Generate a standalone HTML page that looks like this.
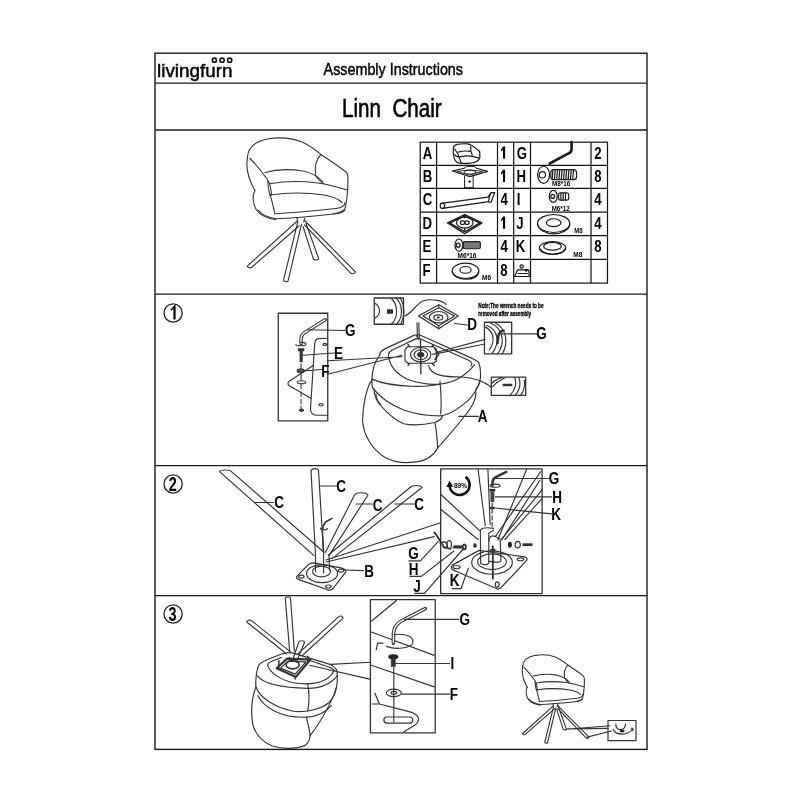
<!DOCTYPE html>
<html><head><meta charset="utf-8"><title>Linn Chair Assembly</title>
<style>
html,body{margin:0;padding:0;background:#fff;width:800px;height:800px;overflow:hidden}
svg{display:block;will-change:transform}
text{font-family:"Liberation Sans",sans-serif;fill:#000}
.ln{fill:none;stroke:#1a1a1a;stroke-linecap:round;stroke-linejoin:round}
.dr{stroke:#333}
</style></head><body>
<svg width="800" height="800" viewBox="0 0 800 800">
<rect width="800" height="800" fill="#fff"/>
<!-- FRAME -->
<g fill="none" stroke="#1a1a1a" stroke-width="1.4">
<rect x="155" y="53.2" width="492" height="696.2"/>
<line x1="155" y1="83.1" x2="647" y2="83.1"/>
<line x1="155" y1="130" x2="647" y2="130"/>
<line x1="155" y1="294.1" x2="647" y2="294.1"/>
<line x1="155" y1="465.6" x2="647" y2="465.6"/>
<line x1="155" y1="595.6" x2="647" y2="595.6"/>
</g>
<!-- HEADER -->
<text x="157" y="77" font-size="17.5" textLength="75.6" lengthAdjust="spacingAndGlyphs" stroke="#000" stroke-width="0.45">livingfurn</text>
<g fill="none" stroke="#111" stroke-width="1.6"><circle cx="214.4" cy="60.2" r="2.1"/><circle cx="222.1" cy="60.2" r="2.1"/><circle cx="229.7" cy="60.2" r="2.1"/></g>
<text x="323.6" y="75" font-size="17" textLength="139.4" lengthAdjust="spacingAndGlyphs" stroke="#000" stroke-width="0.45">Assembly Instructions</text>
<text x="342" y="117.4" font-size="26" textLength="99.7" lengthAdjust="spacingAndGlyphs" xml:space="preserve" stroke="#000" stroke-width="0.6">Linn  Chair</text>
<!-- STEP NUMBERS -->
<g fill="none" stroke="#222" stroke-width="1.3"><circle cx="173.1" cy="313" r="9.1"/><circle cx="173.1" cy="484" r="9.1"/><circle cx="173.1" cy="614" r="9.1"/></g>
<g font-size="19.5" font-weight="bold" text-anchor="middle"><text transform="translate(172.8,491) scale(0.74,1)">2</text><text transform="translate(172.6,621) scale(0.74,1)">3</text></g>
<!-- TABLE -->
<g fill="none" stroke="#111" stroke-width="1.2">
<rect x="420.2" y="142.2" width="187.3" height="140.9"/>
<line x1="436.6" y1="142.2" x2="436.6" y2="283.1"/>
<line x1="497.5" y1="142.2" x2="497.5" y2="283.1"/>
<line x1="513.7" y1="142.2" x2="513.7" y2="283.1"/>
<line x1="530.5" y1="142.2" x2="530.5" y2="283.1"/>
<line x1="591" y1="142.2" x2="591" y2="283.1"/>
<line x1="420.2" y1="165.4" x2="607.5" y2="165.4"/>
<line x1="420.2" y1="188.4" x2="607.5" y2="188.4"/>
<line x1="420.2" y1="212.1" x2="607.5" y2="212.1"/>
<line x1="420.2" y1="235.7" x2="607.5" y2="235.7"/>
<line x1="420.2" y1="259.4" x2="607.5" y2="259.4"/>
</g>
<!--TT--><g font-size="16.5" font-weight="bold">
<text transform="translate(422.65,158.8) scale(0.8,1)">A</text>
<path d="M503.00,146.60 L505.10,146.60 L505.10,158.75 L503.00,158.75 L503.00,149.60 L501.40,151.50 L500.90,149.80 Z" fill="#000"/>
<text transform="translate(516.80,158.8) scale(0.8,1)">G</text>
<text transform="translate(594.20,158.8) scale(0.8,1)">2</text>
<text transform="translate(422.70,182.0) scale(0.8,1)">B</text>
<path d="M503.00,169.80 L505.10,169.80 L505.10,181.95 L503.00,181.95 L503.00,172.80 L501.40,174.70 L500.90,173.00 Z" fill="#000"/>
<text transform="translate(516.60,182.0) scale(0.8,1)">H</text>
<text transform="translate(594.20,182.0) scale(0.8,1)">8</text>
<text transform="translate(422.70,205.0) scale(0.8,1)">C</text>
<text transform="translate(500.50,205.0) scale(0.8,1)">4</text>
<text transform="translate(516.80,205.0) scale(0.8,1)">I</text>
<text transform="translate(594.20,205.0) scale(0.8,1)">4</text>
<text transform="translate(422.40,228.7) scale(0.8,1)">D</text>
<path d="M503.00,216.50 L505.10,216.50 L505.10,228.65 L503.00,228.65 L503.00,219.50 L501.40,221.40 L500.90,219.70 Z" fill="#000"/>
<text transform="translate(516.25,228.7) scale(0.8,1)">J</text>
<text transform="translate(594.20,228.7) scale(0.8,1)">4</text>
<text transform="translate(422.40,252.3) scale(0.8,1)">E</text>
<text transform="translate(500.50,252.3) scale(0.8,1)">4</text>
<text transform="translate(515.75,252.3) scale(0.8,1)">K</text>
<text transform="translate(594.20,252.3) scale(0.8,1)">8</text>
<text transform="translate(422.40,276.0) scale(0.8,1)">F</text>
<text transform="translate(500.30,276.0) scale(0.8,1)">8</text>
</g><path d="M170.6,309.6 L174.2,305.6 L175.6,304.6 L175.6,319.6 L173.4,319.6 L173.4,308.6 L171.4,311 Z" fill="#000"/>
<!--TABLETEXT-->
<g class="ln" stroke-width="1.2">
<!-- A chair + B plate -->
<g transform="translate(437,142) scale(0.075)">
<path vector-effect="non-scaling-stroke" d="M218,80 C215,30 300,18 410,25 C470,35 520,85 570,130 L572,205 C565,250 520,278 420,285 L330,285 C280,285 245,262 232,225 C218,180 212,120 218,80 Z"/>
<path vector-effect="non-scaling-stroke" d="M235,95 C265,130 290,175 300,215 C310,250 318,275 325,285"/>
<path vector-effect="non-scaling-stroke" d="M285,135 C330,120 400,118 445,125"/>
<path vector-effect="non-scaling-stroke" d="M298,198 C360,185 430,182 470,192 C510,200 545,210 568,215"/>
<path vector-effect="non-scaling-stroke" d="M450,60 C445,100 450,140 470,175"/>
<path vector-effect="non-scaling-stroke" d="M235,170 C260,195 280,200 298,198"/>
<!-- B -->
<path vector-effect="non-scaling-stroke" d="M205,388 L360,350 M525,350 L675,392 L440,462 L205,388" stroke-width="1.1"/>
<path vector-effect="non-scaling-stroke" d="M270,392 L440,372 L610,392 L440,440 Z" stroke-width="0.9"/>
<path vector-effect="non-scaling-stroke" d="M360,352 L392,325 L498,325 L525,352" stroke-width="1"/>
<ellipse vector-effect="non-scaling-stroke" cx="440" cy="402" rx="80" ry="26" stroke-width="0.9"/>
<path vector-effect="non-scaling-stroke" d="M368,455 L368,610 M482,455 L482,610 M368,610 L482,610" stroke-width="1"/>
<circle cx="435" cy="528" r="16" fill="#111" stroke="none"/>
</g>
<!-- C leg + D plate -->
<g transform="translate(437,188) scale(0.075)">
<path vector-effect="non-scaling-stroke" d="M55,205 L680,122 L722,62 L770,60 L742,130 L722,190 L700,190 L688,182 L75,272"/>
<ellipse vector-effect="non-scaling-stroke" cx="72" cy="238" rx="30" ry="36"/>
<path vector-effect="non-scaling-stroke" d="M688,182 L695,130 L722,62"/>
<path vector-effect="non-scaling-stroke" d="M140,465 L370,355 L600,465 L370,610 Z" stroke-width="1.3"/>
<path vector-effect="non-scaling-stroke" d="M170,465 L370,375 L570,465 L370,585 Z"/>
<ellipse vector-effect="non-scaling-stroke" cx="370" cy="462" rx="110" ry="72"/>
<ellipse vector-effect="non-scaling-stroke" cx="340" cy="462" rx="28" ry="24"/>
<ellipse vector-effect="non-scaling-stroke" cx="400" cy="462" rx="28" ry="24"/>
<path vector-effect="non-scaling-stroke" d="M370,355 L370,395 M370,530 L370,580"/>
</g>
<!-- E bolt + F washer -->
<g transform="translate(437,235) scale(0.075)">
<ellipse vector-effect="non-scaling-stroke" cx="292" cy="135" rx="52" ry="82"/>
<circle vector-effect="non-scaling-stroke" cx="282" cy="135" r="26"/>
<rect x="350" y="88" width="228" height="95" rx="20" fill="#777" stroke="#222" vector-effect="non-scaling-stroke"/>
<ellipse vector-effect="non-scaling-stroke" cx="380" cy="478" rx="178" ry="102"/>
<path vector-effect="non-scaling-stroke" d="M205,490 C215,555 300,590 380,590 C470,590 545,560 556,495"/>
<ellipse vector-effect="non-scaling-stroke" cx="380" cy="465" rx="75" ry="45"/>
</g>
<!-- G key + H bolt -->
<g transform="translate(530,142) scale(0.0763)">
<path vector-effect="non-scaling-stroke" d="M545,0 L545,95 C545,120 530,140 505,150 L258,282" stroke-width="2.6"/>
<ellipse vector-effect="non-scaling-stroke" cx="178" cy="430" rx="78" ry="112"/>
<circle vector-effect="non-scaling-stroke" cx="162" cy="430" r="42"/>
<rect x="272" y="362" width="338" height="132" rx="40" fill="#fff" stroke="#222" vector-effect="non-scaling-stroke"/>
<path vector-effect="non-scaling-stroke" d="M300,365 L290,490 M330,365 L320,490 M360,365 L350,490 M390,365 L380,490 M420,365 L410,490 M450,365 L440,490 M480,365 L470,490 M510,365 L500,490 M540,365 L530,490 M570,365 L560,490"/>
</g>
<!-- I bolt + J washer -->
<g transform="translate(530,188) scale(0.0763)">
<ellipse vector-effect="non-scaling-stroke" cx="305" cy="110" rx="52" ry="78"/>
<circle vector-effect="non-scaling-stroke" cx="298" cy="110" r="26"/>
<rect x="375" y="65" width="132" height="95" rx="25" fill="#fff" stroke="#222" vector-effect="non-scaling-stroke"/>
<path vector-effect="non-scaling-stroke" d="M405,68 L405,158 M435,68 L435,158 M465,68 L465,158"/>
<ellipse vector-effect="non-scaling-stroke" cx="310" cy="465" rx="212" ry="118"/>
<path vector-effect="non-scaling-stroke" d="M100,475 C110,545 200,600 310,600 C420,600 510,550 520,480"/>
<ellipse vector-effect="non-scaling-stroke" cx="310" cy="455" rx="95" ry="52"/>
</g>
<!-- K washer + icon -->
<g transform="translate(510,235) scale(0.10125)">
<ellipse vector-effect="non-scaling-stroke" cx="420" cy="128" rx="130" ry="62"/>
<ellipse vector-effect="non-scaling-stroke" cx="420" cy="112" rx="88" ry="38"/>
<path vector-effect="non-scaling-stroke" d="M300,140 C320,175 380,190 420,190 C480,190 530,170 545,135"/>
<circle vector-effect="non-scaling-stroke" cx="115" cy="312" r="16"/>
<path vector-effect="non-scaling-stroke" d="M45,410 L75,345 L185,345 L190,410 Z"/>
<circle cx="160" cy="348" r="14" fill="#111" stroke="none"/>
<path vector-effect="non-scaling-stroke" d="M80,380 L170,380"/>
</g>
</g>
<g font-weight="bold" font-size="6.6">
<text x="552" y="186" textLength="18.4" lengthAdjust="spacingAndGlyphs">M8*16</text>
<text x="551.7" y="210.5" textLength="18" lengthAdjust="spacingAndGlyphs">M6*12</text>
<text x="457.6" y="257.5" textLength="18.8" lengthAdjust="spacingAndGlyphs">M6*16</text>
<text x="574.2" y="233" textLength="8.4" lengthAdjust="spacingAndGlyphs">M8</text>
<text x="573.3" y="256.8" textLength="9" lengthAdjust="spacingAndGlyphs">M8</text>
<text x="482" y="280" textLength="9" lengthAdjust="spacingAndGlyphs">M6</text>
</g>

<!--TABLEICONS-->
<g id="chair" class="ln dr" stroke-width="1.1">
<g transform="translate(240,132) scale(0.15)">
<path vector-effect="non-scaling-stroke" d="M50,165 C55,100 110,60 190,45 C260,35 340,38 410,65 C470,90 510,125 540,150 C600,190 660,230 705,265 C718,275 720,290 720,310 L718,380"/>
<path vector-effect="non-scaling-stroke" d="M50,165 C42,210 48,280 75,340 C85,365 95,380 100,390"/>
<path vector-effect="non-scaling-stroke" d="M65,175 C100,210 150,270 185,320 C200,345 208,380 210,420"/>
<path vector-effect="non-scaling-stroke" d="M540,150 C510,180 495,230 505,290 C515,310 535,330 560,345"/>
<path vector-effect="non-scaling-stroke" d="M165,270 C230,252 330,245 420,260 C480,272 520,295 550,330"/>
<path vector-effect="non-scaling-stroke" d="M200,345 C280,330 400,325 520,340 C600,352 660,370 710,385"/>
<path vector-effect="non-scaling-stroke" d="M200,420 C300,405 430,400 560,420 C620,430 660,450 680,470"/>
<path vector-effect="non-scaling-stroke" d="M232,545 C350,540 500,525 640,510 C680,505 700,490 700,470"/>
<path vector-effect="non-scaling-stroke" d="M100,390 C80,420 85,480 110,520 C140,560 190,578 240,585"/>
<path vector-effect="non-scaling-stroke" d="M718,380 C715,420 712,470 700,510 C690,530 660,540 620,545"/>
<path vector-effect="non-scaling-stroke" d="M200,420 C215,460 225,510 232,545"/>
<path vector-effect="non-scaling-stroke" d="M185,330 C190,380 195,410 200,420"/>
</g>
<g transform="translate(240,210) scale(0.15)">
<path vector-effect="non-scaling-stroke" d="M120,0 C140,25 180,50 240,58 C330,55 500,40 640,25 C670,20 690,10 700,0"/>
<path vector-effect="non-scaling-stroke" d="M380,55 L385,75 M430,55 L425,80"/>
<path vector-effect="non-scaling-stroke" d="M380,75 L50,372 C48,380 60,388 75,385 L395,105"/>
<path vector-effect="non-scaling-stroke" d="M385,80 L290,468 C292,478 315,480 320,474 L410,95"/>
<path vector-effect="non-scaling-stroke" d="M420,110 L490,328 C500,335 520,335 525,325 L440,90"/>
<path vector-effect="non-scaling-stroke" d="M430,70 L770,412 C768,424 748,428 740,422 L430,100"/>
</g>
</g>
<use href="#chair" transform="translate(370.4,570) scale(0.615)"/>

<!--CHAIR-->
<g class="ln dr" stroke-width="1.15">
<!-- chair body (upside down) -->
<g transform="translate(350,330) scale(0.1875)">
<path vector-effect="non-scaling-stroke" d="M158,135 C158,112 178,102 200,94 L338,30 C352,24 372,25 388,33 L648,150 C665,158 680,165 686,173 C698,200 698,250 693,273 C690,290 685,300 670,320"/>
<path vector-effect="non-scaling-stroke" d="M205,128 C210,112 225,108 240,100 L345,50 C358,44 372,45 385,52 L630,160 C650,170 655,180 645,192"/>
<path vector-effect="non-scaling-stroke" d="M205,128 C205,185 245,240 320,268 C390,290 450,292 485,288 C560,280 620,240 665,185"/>
<path vector-effect="non-scaling-stroke" d="M158,135 C130,170 118,215 117,267 C117,285 118,300 120,307"/>
<path vector-effect="non-scaling-stroke" d="M117,267 C90,300 68,400 67,480 C70,560 120,640 187,680 C240,708 300,710 340,705 C400,700 440,680 467,630 C520,570 600,480 640,420 C665,385 675,350 670,320"/>
<path vector-effect="non-scaling-stroke" d="M120,307 C160,360 220,400 287,427 C350,450 420,458 480,458 C530,455 580,420 633,373 C665,340 685,300 693,273"/>
<path vector-effect="non-scaling-stroke" d="M127,313 C130,360 150,390 170,410 C210,455 250,485 287,500 C340,512 400,505 453,493 C475,485 490,472 493,460"/>
<path vector-effect="non-scaling-stroke" d="M138,340 C140,370 150,385 165,400"/>
<path vector-effect="non-scaling-stroke" d="M480,273 C485,330 490,400 483,447"/>
<path vector-effect="non-scaling-stroke" d="M453,497 C462,540 466,590 467,630"/>
<path vector-effect="non-scaling-stroke" d="M117,262 C170,285 260,298 330,300 C400,302 450,296 480,288"/>
</g>
<!-- center plate on seat -->
<g transform="translate(360,295) scale(0.15)">
<path vector-effect="non-scaling-stroke" d="M318,345 L490,345 L510,365 L510,440 L490,455 L318,455 L300,440 L300,365 Z"/>
<ellipse vector-effect="non-scaling-stroke" cx="405" cy="398" rx="68" ry="48"/>
<ellipse vector-effect="non-scaling-stroke" cx="405" cy="398" rx="45" ry="32"/>
<ellipse vector-effect="non-scaling-stroke" cx="405" cy="398" rx="20" ry="14" fill="#333"/>
<path vector-effect="non-scaling-stroke" d="M403,300 L406,525 M330,345 L320,330 M480,345 L490,330 M330,455 L320,470 M480,455 L495,470" stroke-width="1.4"/>
<path vector-effect="non-scaling-stroke" d="M500,360 L525,395 L500,430" stroke-width="1.6"/>
<!-- arrow down -->
<path vector-effect="non-scaling-stroke" d="M380,185 L383,285 M392,185 L395,285 M376,270 L389,295 L400,270"/>
<!-- D diamond -->
<path vector-effect="non-scaling-stroke" d="M390,140 L525,65 L655,140 L525,225 Z" stroke-width="1.3"/>
<path vector-effect="non-scaling-stroke" d="M420,140 L525,85 L630,140 L525,205 Z"/>
<ellipse vector-effect="non-scaling-stroke" cx="525" cy="148" rx="62" ry="38"/>
<ellipse vector-effect="non-scaling-stroke" cx="522" cy="150" rx="30" ry="18"/>
<ellipse cx="522" cy="150" rx="9" ry="6" fill="#222"/>
<path vector-effect="non-scaling-stroke" d="M525,65 L525,85 M525,205 L525,225"/>
<path vector-effect="non-scaling-stroke" d="M630,190 L715,200"/>
<!-- small detail box -->
<rect vector-effect="non-scaling-stroke" x="95" y="20" width="195" height="175" stroke-width="1.3"/>
<path vector-effect="non-scaling-stroke" d="M210,25 C250,60 260,150 210,192 M240,22 C285,60 290,150 245,192 M268,22 C300,70 300,140 272,192 M100,55 C140,80 140,130 100,155"/>
<rect x="180" y="95" width="40" height="30" fill="#333" stroke="none"/>
<path vector-effect="non-scaling-stroke" d="M290,140 C335,140 370,60 420,40 C480,20 560,40 575,65"/>
</g>
<!-- left detail box -->
<g transform="translate(270,305) scale(0.15)">
<rect vector-effect="non-scaling-stroke" x="55" y="55" width="330" height="717" stroke-width="1.3"/>
<path vector-effect="non-scaling-stroke" d="M368,98 L228,186 C212,197 207,210 207,228 L207,258" stroke-width="3.4"/>
<path vector-effect="non-scaling-stroke" d="M366,99.5 L228,186 C212,197 207,210 207,228 L207,256" stroke-width="1.3" stroke="#fff"/>
<path vector-effect="non-scaling-stroke" d="M172,262 C172,275 240,275 240,262 C240,250 215,248 200,250"/>
<path vector-effect="non-scaling-stroke" d="M190,292 L225,292 L225,305 L190,305 Z" fill="#333"/>
<rect x="198" y="305" width="20" height="75" fill="#333"/>
<ellipse vector-effect="non-scaling-stroke" cx="205" cy="438" rx="24" ry="13" fill="#555"/>
<path vector-effect="non-scaling-stroke" d="M207,390 L207,420 M207,455 L207,500 M207,530 L207,560 M207,580 L207,610 M207,630 L207,660 M207,675 L207,690" stroke-width="1"/>
<ellipse vector-effect="non-scaling-stroke" cx="210" cy="515" rx="28" ry="10"/>
<ellipse vector-effect="non-scaling-stroke" cx="210" cy="702" rx="13" ry="8" fill="#555"/>
<path vector-effect="non-scaling-stroke" d="M385,222 L322,224 C306,226 300,240 298,260 L270,690 C268,715 285,735 310,735 L385,735"/>
<path vector-effect="non-scaling-stroke" d="M290,402 L128,508 C114,520 118,535 135,542 L272,622"/>
<ellipse vector-effect="non-scaling-stroke" cx="365" cy="263" rx="12" ry="7"/>
<ellipse vector-effect="non-scaling-stroke" cx="340" cy="665" rx="15" ry="8"/>
<path vector-effect="non-scaling-stroke" d="M250,165 L500,170 M218,335 L430,320 M218,440 L345,430"/>
<path vector-effect="non-scaling-stroke" d="M385,372 L880,345 M385,462 L880,335"/>
</g>
<!-- leaders to G box and arrow box -->
<path d="M432.5,354.4 L485,344 M436,352.5 L485,339.4"/>
<path d="M428.7,365.6 C430.5,375 443,377 462,377 C477,378 486,383 491.5,387"/>
<!-- G detail box -->
<g transform="translate(470,295) scale(0.1375)">
<rect vector-effect="non-scaling-stroke" x="105" y="198" width="198" height="230" stroke-width="1.3"/>
<path vector-effect="non-scaling-stroke" d="M105,230 C170,260 190,330 140,400 M120,220 C200,250 225,340 160,425 M150,205 C240,240 260,350 200,428 M180,200 C270,250 280,350 235,428"/>
<path vector-effect="non-scaling-stroke" d="M245,258 C220,262 208,285 205,300 L200,350" stroke-width="2.6"/>
<path vector-effect="non-scaling-stroke" d="M225,283 L485,283"/>
<rect vector-effect="non-scaling-stroke" x="155" y="598" width="250" height="132" stroke-width="1.3"/>
<path vector-effect="non-scaling-stroke" d="M160,640 C185,615 215,605 235,600 M160,670 C195,630 230,615 250,605 M295,725 C330,690 340,640 325,600 M330,728 C360,690 370,640 355,600 M370,728 C390,700 400,660 395,620"/>
<path vector-effect="non-scaling-stroke" d="M245,655 L300,655" stroke-width="2.5"/>
</g>
<path d="M458.8,416.3 L478.4,416.3"/>
</g>
<g font-weight="bold" font-size="6.4" stroke="#000" stroke-width="0.3">
<text x="478.3" y="308" textLength="65.3" lengthAdjust="spacingAndGlyphs">Note:The wrench needs to be</text>
<text x="478.3" y="315.6" textLength="52.9" lengthAdjust="spacingAndGlyphs">removed after assembly</text>
</g>

<!--STEP1-->
<g class="ln dr" stroke-width="1.15">
<!-- main legs -->
<g transform="translate(200,465) scale(0.3)">
<path vector-effect="non-scaling-stroke" d="M65,22 L380,302 M105,22 L412,290 M65,22 C70,15 100,15 105,22"/>
<path vector-effect="non-scaling-stroke" d="M370,18 L385,300 M395,18 L412,296 M370,18 C375,10 392,10 395,18"/>
<path vector-effect="non-scaling-stroke" d="M515,100 L418,292 M560,100 L430,302 M515,100 C522,90 552,90 560,100"/>
<path vector-effect="non-scaling-stroke" d="M700,75 L428,300 M740,75 L440,312 M700,75 C708,66 735,66 740,75"/>
<!-- hex key on vertical leg -->
<path vector-effect="non-scaling-stroke" d="M440,178 L418,190 L410,205 L410,215" stroke-width="1.6"/>
<path vector-effect="non-scaling-stroke" d="M403,210 C395,215 420,220 425,212"/>
<path vector-effect="non-scaling-stroke" d="M408,220 L412,290" stroke-width="1.4"/>
<!-- base plate -->
<path vector-effect="non-scaling-stroke" d="M322,372 L360,333 C365,328 372,326 380,326 L470,343 C480,345 488,350 486,356 L445,410 C440,416 432,418 425,416 L330,382 C322,379 320,376 322,372 Z" stroke-width="1.2"/>
<ellipse vector-effect="non-scaling-stroke" cx="407" cy="362" rx="52" ry="30"/>
<ellipse vector-effect="non-scaling-stroke" cx="405" cy="355" rx="30" ry="18"/>
<ellipse vector-effect="non-scaling-stroke" cx="338" cy="372" rx="9" ry="5"/>
<ellipse vector-effect="non-scaling-stroke" cx="470" cy="352" rx="9" ry="5"/>
<ellipse vector-effect="non-scaling-stroke" cx="428" cy="405" rx="9" ry="5"/>
<path vector-effect="non-scaling-stroke" d="M385,300 L385,355 M412,296 L412,360 M430,302 L432,350"/>
<path vector-effect="non-scaling-stroke" d="M480,350 L545,352"/>
<!-- C leaders -->
<path vector-effect="non-scaling-stroke" d="M185,125 L245,125 M400,70 L455,70 M520,130 L575,130 M650,130 L715,130"/>
<!-- long lines to right labels -->
<path vector-effect="non-scaling-stroke" d="M420,316.7 L802.5,192.5 M420,323.3 L780.8,238.7"/>
</g>
<!-- G H J lines -->
<g transform="translate(340,500) scale(0.1625)">
<path vector-effect="non-scaling-stroke" d="M425,375 L495,375 L605,255 M430,470 L500,470 L700,315 M460,575 L520,575 L760,300 M690,545 L745,545 L790,420"/>
<path vector-effect="non-scaling-stroke" d="M580,200 C600,220 620,260 640,290 L680,300" stroke-width="1.8"/>
<ellipse vector-effect="non-scaling-stroke" cx="672" cy="275" rx="14" ry="25"/>
<path vector-effect="non-scaling-stroke" d="M700,292 L745,292" stroke-width="2.2"/>
<ellipse vector-effect="non-scaling-stroke" cx="765" cy="292" rx="10" ry="14"/>
</g>
<!-- detail box upper -->
<g transform="translate(440,466) scale(0.13125)">
<rect vector-effect="non-scaling-stroke" x="5" y="22" width="773" height="950" stroke-width="1.3"/>
<path vector-effect="non-scaling-stroke" d="M505,45 L425,85 C405,95 400,110 400,125 L400,150" stroke-width="2.4"/>
<ellipse vector-effect="non-scaling-stroke" cx="420" cy="150" rx="38" ry="12"/>
<rect x="378" y="175" width="42" height="18" fill="#222"/>
<rect x="385" y="193" width="28" height="80" fill="#444"/>
<ellipse cx="397" cy="320" rx="22" ry="9" fill="#333"/>
<path vector-effect="non-scaling-stroke" d="M397,280 L397,310 M397,330 L397,360 M397,380 L397,410 M397,430 L397,460"/>
<path vector-effect="non-scaling-stroke" d="M290,25 L345,455 M365,25 L382,445"/>
<path vector-effect="non-scaling-stroke" d="M5,215 L300,490 M5,330 L290,560"/>
<path vector-effect="non-scaling-stroke" d="M660,25 L440,564 M760,110 L470,564 M775,250 L495,560"/>
<path vector-effect="non-scaling-stroke" d="M420,95 L830,95 M420,235 L850,235 M420,320 L850,365"/>
</g>
<!-- detail box lower -->
<g transform="translate(440,465) scale(0.1626)">
<path vector-effect="non-scaling-stroke" d="M70,625 C75,615 85,610 95,605 L240,525 L520,565 C535,568 540,580 530,590 L380,750 C370,762 355,765 345,758 L90,650 C75,645 68,635 70,625 Z" stroke-width="1.2"/>
<ellipse vector-effect="non-scaling-stroke" cx="320" cy="600" rx="125" ry="72"/>
<ellipse vector-effect="non-scaling-stroke" cx="320" cy="595" rx="88" ry="48"/>
<ellipse vector-effect="non-scaling-stroke" cx="102" cy="628" rx="22" ry="10"/>
<ellipse vector-effect="non-scaling-stroke" cx="495" cy="580" rx="20" ry="9"/>
<ellipse vector-effect="non-scaling-stroke" cx="352" cy="735" rx="12" ry="16"/>
<path vector-effect="non-scaling-stroke" d="M248,400 L250,605 C260,615 290,615 300,605 L300,420 M248,400 C260,385 300,385 330,390 M300,420 L330,400"/>
<path vector-effect="non-scaling-stroke" d="M300,470 C300,440 320,430 340,440 L370,455 L375,590 C370,600 320,600 300,590"/>
<path vector-effect="non-scaling-stroke" d="M340,440 L620,40 M380,455 L630,150"/>
<path vector-effect="non-scaling-stroke" d="M325,500 L325,700" stroke-width="1.8"/>
<ellipse vector-effect="non-scaling-stroke" cx="325" cy="525" rx="14" ry="8"/>
<ellipse cx="430" cy="490" rx="12" ry="18" fill="#222"/>
<ellipse vector-effect="non-scaling-stroke" cx="478" cy="490" rx="16" ry="20"/>
<rect x="508" y="482" width="60" height="16" fill="#333"/>
<path vector-effect="non-scaling-stroke" d="M0,480 C20,470 40,470 45,490 C50,510 30,515 20,505" stroke-width="1.4"/>
<rect x="85" y="495" width="50" height="14" fill="#333"/>
<ellipse vector-effect="non-scaling-stroke" cx="150" cy="500" rx="10" ry="14"/>
<ellipse cx="215" cy="495" rx="10" ry="14" fill="#333"/>
</g>
</g>
<path d="M465.5,476.9 A10,10 0 1 1 449.6,485.5" fill="none" stroke="#111" stroke-width="2.6"/>
<path d="M446.3,487 L453,487 L449.6,480.5 Z" fill="#111"/>
<text x="454" y="487.6" font-size="7.5" font-weight="bold" textLength="13" lengthAdjust="spacingAndGlyphs">89%</text>

<!--STEP2-->
<g class="ln dr" stroke-width="1.15">
<g transform="translate(240,596) scale(0.19268)">
<!-- legs -->
<path vector-effect="non-scaling-stroke" d="M35,135 L240,300 M60,128 L262,290 M35,135 C35,125 55,122 60,128"/>
<path vector-effect="non-scaling-stroke" d="M235,12 L258,290 M262,10 L282,285 M235,12 C238,4 258,3 262,10"/>
<path vector-effect="non-scaling-stroke" d="M510,110 L300,300 M535,115 L322,310 M510,110 C515,100 533,102 535,115"/>
<path vector-effect="non-scaling-stroke" d="M305,240 L270,340 M335,240 L292,345 M305,240 C310,230 332,230 335,240"/>
<!-- body -->
</g>
<g transform="translate(250,645) scale(0.13123)">
<path vector-effect="non-scaling-stroke" d="M60,170 C62,145 90,128 130,112 L230,72 C260,60 300,55 330,62 L610,148 C650,163 668,195 665,235"/>
<path vector-effect="non-scaling-stroke" d="M135,155 C135,140 150,130 170,122 L240,95 M440,112 L600,168 C622,176 636,186 640,195"/>
<path vector-effect="non-scaling-stroke" d="M135,155 C150,210 230,265 330,288 C400,300 480,298 540,280 C590,262 625,230 640,195"/>
<path vector-effect="non-scaling-stroke" d="M60,170 C48,210 42,260 45,320"/>
<path vector-effect="non-scaling-stroke" d="M55,235 C100,290 220,325 440,330 C540,330 620,290 665,235"/>
<path vector-effect="non-scaling-stroke" d="M45,320 C80,410 200,480 330,505 C420,515 540,490 600,440 C630,410 650,370 655,330"/>
<path vector-effect="non-scaling-stroke" d="M60,385 C100,470 230,560 430,550 C520,545 580,510 620,460"/>
<path vector-effect="non-scaling-stroke" d="M440,300 C450,350 455,420 440,505"/>
<path vector-effect="non-scaling-stroke" d="M430,550 C440,600 455,650 458,690"/>
<path vector-effect="non-scaling-stroke" d="M45,320 C15,400 5,500 20,600 C40,680 100,740 170,770 C250,795 350,795 420,765 C445,745 458,720 458,690"/>
<path vector-effect="non-scaling-stroke" d="M665,235 C668,290 660,340 640,380 C600,470 530,600 458,690"/>
<path vector-effect="non-scaling-stroke" d="M203,177 L283,104 L460,111 L350,243 Z" stroke-width="2.2"/>
<path vector-effect="non-scaling-stroke" d="M232,176 L290,124 L425,128 L345,222 Z" stroke-width="1.2"/>
<ellipse vector-effect="non-scaling-stroke" cx="325" cy="150" rx="50" ry="32" stroke-width="1.6"/>
<path vector-effect="non-scaling-stroke" d="M220,120 L220,180 M440,85 L440,130 M345,243 L345,260 M300,110 L300,95" stroke-width="1.5"/>
</g>
<path d="M370.6,662.2 L330,664.4 M370.6,679.4 L309.7,665.3"/>
<g transform="translate(365,596) scale(0.18)">
<rect vector-effect="non-scaling-stroke" x="30" y="20" width="360" height="740" stroke-width="1.3"/>
<path vector-effect="non-scaling-stroke" d="M35,140 L175,25 M35,200 L385,330 M35,385 L385,505"/>
<path vector-effect="non-scaling-stroke" d="M55,540 L80,600 L40,600 M80,600 L255,645 C300,660 310,690 280,715 L215,755"/>
<rect vector-effect="non-scaling-stroke" x="105" y="672" width="160" height="34" rx="17"/>
<path vector-effect="non-scaling-stroke" d="M335,70 L200,140 C170,158 160,180 158,210 L158,262" stroke-width="3.6"/>
<path vector-effect="non-scaling-stroke" d="M333,71 L200,140 C170,158 160,180 158,210 L158,260" stroke-width="1.4" stroke="#fff"/>
<path vector-effect="non-scaling-stroke" d="M160,215 C230,205 275,230 265,262 C255,290 170,300 120,280 M70,262 L100,262 M70,262 L62,300"/>
<ellipse cx="157" cy="337" rx="28" ry="14" fill="#222"/>
<rect x="145" y="345" width="25" height="48" fill="#333"/>
<path vector-effect="non-scaling-stroke" d="M160,395 L160,700"/>
<ellipse vector-effect="non-scaling-stroke" cx="160" cy="538" rx="42" ry="21"/>
<ellipse vector-effect="non-scaling-stroke" cx="160" cy="538" rx="16" ry="8"/>
<path vector-effect="non-scaling-stroke" d="M220,130 L520,130 M170,375 L470,375 M205,545 L470,545"/>
</g>
<!-- small chair box -->
<g transform="translate(510,640) scale(0.175)">
<rect vector-effect="non-scaling-stroke" x="560" y="460" width="160" height="115" stroke-width="1.2"/>
<path vector-effect="non-scaling-stroke" d="M320,510 L570,490 M440,555 L580,520 M330,508 L560,505"/>
<path vector-effect="non-scaling-stroke" d="M605,480 C600,520 660,525 660,480 M590,510 C600,545 680,550 700,505"/>
<ellipse cx="640" cy="520" rx="14" ry="8" fill="#222"/>
<path vector-effect="non-scaling-stroke" d="M695,505 L705,510 L700,518" />
</g>
</g>

<g font-size="16.5" font-weight="bold">
<text transform="translate(344.9,336.1) scale(0.82,1)">G</text>
<text transform="translate(334.1,358.6) scale(0.82,1)">E</text>
<text transform="translate(321.3,376.6) scale(0.82,1)">F</text>
<text transform="translate(467.2,330.4) scale(0.82,1)">D</text>
<text transform="translate(536.2,339.3) scale(0.82,1)">G</text>
<text transform="translate(477.7,422.0) scale(0.82,1)">A</text>
<text transform="translate(274.3,507.6) scale(0.82,1)">C</text>
<text transform="translate(336.2,491.9) scale(0.82,1)">C</text>
<text transform="translate(372.8,510.8) scale(0.82,1)">C</text>
<text transform="translate(414.2,510.2) scale(0.82,1)">C</text>
<text transform="translate(364.2,576.9) scale(0.82,1)">B</text>
<text transform="translate(408.2,559.3) scale(0.82,1)">G</text>
<text transform="translate(408.7,574.8) scale(0.82,1)">H</text>
<text transform="translate(413.2,591.6) scale(0.82,1)">J</text>
<text transform="translate(449.7,586.2) scale(0.82,1)">K</text>
<text transform="translate(548.8,484.1) scale(0.82,1)">G</text>
<text transform="translate(552.2,503.3) scale(0.82,1)">H</text>
<text transform="translate(551.2,520.0) scale(0.82,1)">K</text>
<text transform="translate(459.6,624.8) scale(0.82,1)">G</text>
<text transform="translate(450.6,668.9) scale(0.82,1)">I</text>
<text transform="translate(449.7,700.4) scale(0.82,1)">F</text>
</g>
<!--STEP3-->
</svg>
</body></html>
